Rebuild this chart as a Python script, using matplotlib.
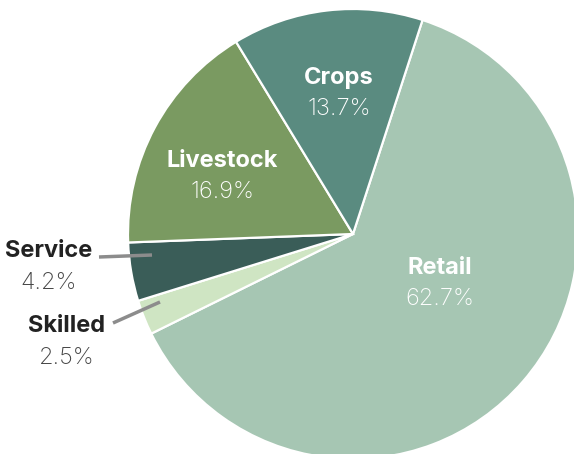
import matplotlib.pyplot as plt

sectors = ["Retail", "Skilled", "Service", "Livestock", "Crops"]
shares = [62.7, 2.5, 4.2, 16.9, 13.7]
colors = ["#a6c6b3", "#cfe5c3", "#3a5d58", "#7a9a61", "#5a8b80"]

W, H = 574, 454
fig = plt.figure(figsize=(W / 100, H / 100), dpi=100)
ax = fig.add_axes([0, 0, 1, 1])

cx, cy, r = 353, H - 234, 225
ax.pie(shares, colors=colors, startangle=72, counterclock=False,
       center=(cx, cy), radius=r, frame=True,
       wedgeprops=dict(edgecolor="white", linewidth=1.6))
ax.set_xlim(0, W)
ax.set_ylim(0, H)
ax.set_aspect("equal")
ax.axis("off")

FONT = "Inter"
FS = 17

# labels inside the slices
inside = {"Crops": (339, 78), "Livestock": (222, 161), "Retail": (440, 268)}
for name, (x, y) in inside.items():
    val = shares[sectors.index(name)]
    ax.text(x, H - y, name, ha="center", va="center", color="white",
            fontsize=FS, fontweight="bold", family=FONT)
    ax.text(x, H - y - 31, f"{val}%", ha="center", va="center", color="white",
            fontsize=FS, fontweight="light", family=FONT)

# labels outside with leader lines
outside = {"Service": (49, 251, (99, 152), (257, 255)),
           "Skilled": (67, 326, (113, 160), (323, 302))}
for name, (x, y, lx, ly) in outside.items():
    val = shares[sectors.index(name)]
    ax.text(x, H - y, name, ha="center", va="center", color="#222222",
            fontsize=FS, fontweight="bold", family=FONT)
    ax.text(x, H - y - 32, f"{val}%", ha="center", va="center", color="#444444",
            fontsize=FS, fontweight="light", family=FONT)
    ax.plot(lx, [H - ly[0], H - ly[1]], color="#8c8c8c", linewidth=2.5,
            solid_capstyle="butt")

fig.savefig("out.png", dpi=100)
